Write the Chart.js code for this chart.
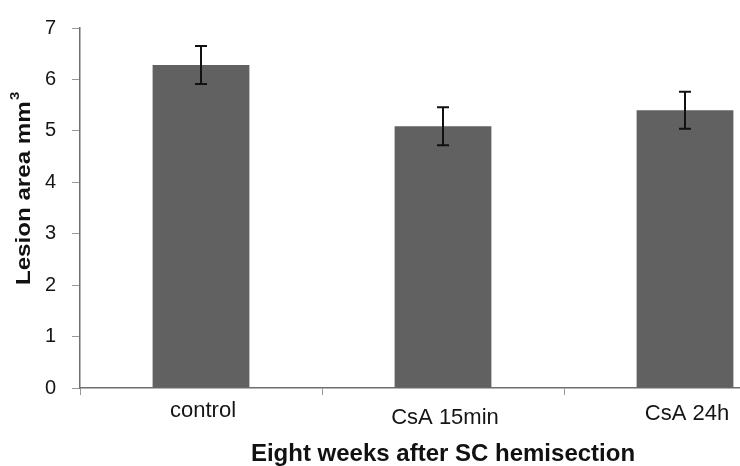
<!DOCTYPE html>
<html>
<head>
<meta charset="utf-8">
<script src="https://cdn.jsdelivr.net/npm/chart.js@4"></script>
<style>
  html, body { margin: 0; padding: 0; background: #fff; }
  #wrap { width: 740px; height: 466px; overflow: hidden; position: relative; }
</style>
</head>
<body>
<div id="wrap">
  <canvas id="lesion-chart" width="806" height="466"></canvas>
</div>
<script>
// data
const groups = ["control", "CsA 15min", "CsA 24h"];
const lesionArea = [6.28, 5.09, 5.40];
const lesionErr = [0.37, 0.37, 0.36];
const yTicks = [0, 1, 2, 3, 4, 5, 6, 7];

const yTitle = "Lesion area mm";
const yTitleSup = "3";
const xTitle = "Eight weeks after SC hemisection";

const FONT = "'Liberation Sans', Arial, Helvetica, sans-serif";

// small vertical drop of each category label (the middle one sits lower)
const labelDrop = [0, 7, 3];

// error bars on top of each bar
const errorBars = {
  id: "errorBars",
  afterDatasetsDraw(chart) {
    const ctx = chart.ctx;
    const y = chart.scales.y;
    const meta = chart.getDatasetMeta(0);
    ctx.save();
    ctx.strokeStyle = "#111";
    ctx.lineWidth = 2;
    meta.data.forEach((bar, i) => {
      const x = bar.x;
      const top = y.getPixelForValue(lesionArea[i] + lesionErr[i]);
      const bot = y.getPixelForValue(lesionArea[i] - lesionErr[i]);
      ctx.beginPath();
      ctx.moveTo(x, top); ctx.lineTo(x, bot);
      ctx.moveTo(x - 6, top); ctx.lineTo(x + 6, top);
      ctx.moveTo(x - 6, bot); ctx.lineTo(x + 6, bot);
      ctx.stroke();
    });
    ctx.restore();
  }
};

// category labels + axis titles
const axisText = {
  id: "axisText",
  afterDraw(chart) {
    const ctx = chart.ctx;
    const xs = chart.scales.x;
    const area = chart.chartArea;
    ctx.save();
    ctx.fillStyle = "#151515";
    ctx.textAlign = "center";
    ctx.textBaseline = "middle";
    ctx.font = "22px " + FONT;
    groups.forEach((g, i) => {
      ctx.fillText(g, xs.getPixelForValue(i) + 2, area.bottom + 23 + labelDrop[i]);
    });

    // x title
    ctx.font = "bold 24px " + FONT;
    ctx.textBaseline = "alphabetic";
    ctx.fillStyle = "#111";
    ctx.fillText(xTitle, (area.left + area.right) / 2, 461);

    // y title, rotated, stretched a little along the text
    ctx.translate(24, 189);
    ctx.rotate(-Math.PI / 2);
    ctx.scale(1.15, 1);
    ctx.font = "bold 21px " + FONT;
    const w1 = ctx.measureText(yTitle).width;
    ctx.font = "bold 13px " + FONT;
    const w2 = ctx.measureText(yTitleSup).width;
    const start = -(w1 + w2) / 2;
    ctx.textAlign = "left";
    ctx.textBaseline = "middle";
    ctx.font = "bold 21px " + FONT;
    ctx.fillText(yTitle, start, 0);
    ctx.font = "bold 13px " + FONT;
    ctx.fillText(yTitleSup, start + w1 + 1, -9);
    ctx.restore();
  }
};

const config = {
  type: "bar",
  data: {
    labels: groups,
    datasets: [{
      data: lesionArea,
      backgroundColor: "#616161",
      borderWidth: 0,
      barPercentage: 0.4,
      categoryPercentage: 1.0
    }]
  },
  options: {
    responsive: false,
    animation: false,
    devicePixelRatio: 1,
    layout: { padding: { top: 25, right: 0, bottom: 0, left: 0 } },
    plugins: {
      legend: { display: false },
      tooltip: { enabled: false },
      title: { display: false }
    },
    scales: {
      x: {
        afterFit: (scale) => { scale.height = 78; },
        ticks: { display: false },
        grid: {
          offset: true,
          drawOnChartArea: false,
          drawTicks: true,
          tickLength: 7,
          color: "#999",
          lineWidth: 1
        },
        border: { display: true, color: "#6f6f6f", width: 1.5 }
      },
      y: {
        min: 0,
        max: 7,
        afterFit: (scale) => { scale.width = 80; },
        afterBuildTicks: (scale) => { scale.ticks = yTicks.map(v => ({ value: v })); },
        ticks: {
          font: { family: FONT, size: 20 },
          color: "#151515",
          padding: 16
        },
        grid: {
          drawOnChartArea: false,
          drawTicks: true,
          tickLength: 8,
          color: "#999",
          lineWidth: 1
        },
        border: { display: true, color: "#6f6f6f", width: 1.5 }
      }
    }
  },
  plugins: [errorBars, axisText]
};

const ctx = document.getElementById("lesion-chart").getContext("2d");
window.lesionChart = new Chart(ctx, config);
</script>
</body>
</html>
